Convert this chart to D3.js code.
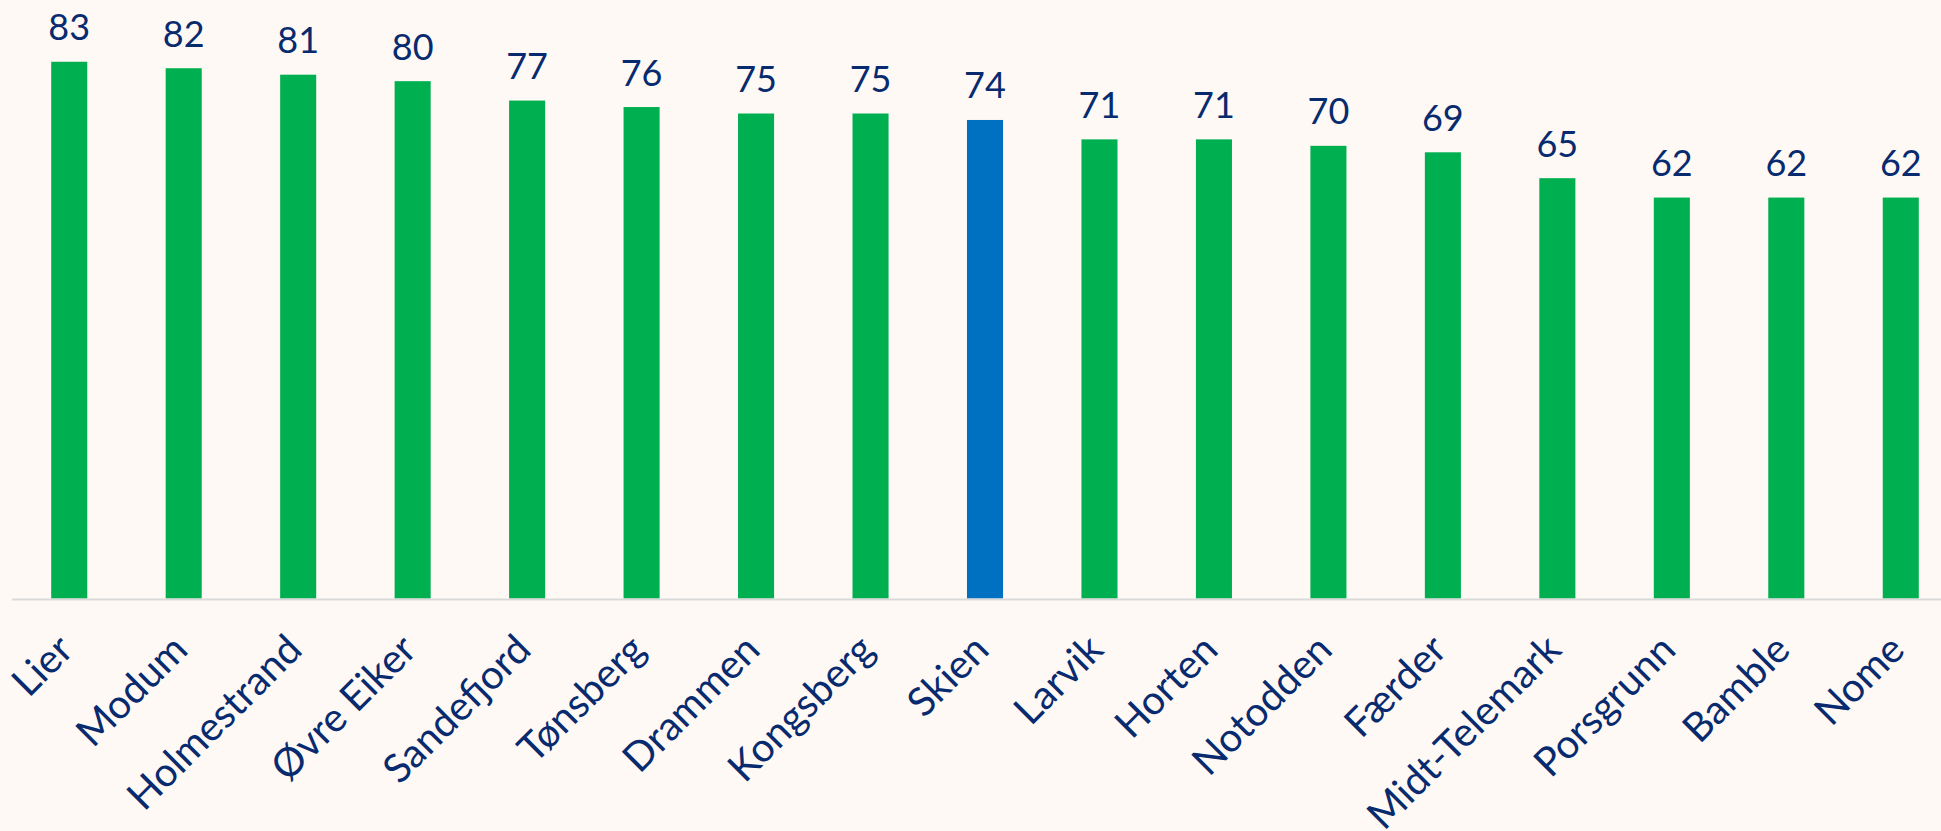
<!DOCTYPE html>
<html>
<head>
<meta charset="utf-8">
<script src="https://cdn.jsdelivr.net/npm/d3@7/dist/d3.min.js"></script>
<style>
  html, body { margin: 0; padding: 0; background: #fef9f5; }
  svg { display: block; }
</style>
</head>
<body>
<svg id="chart" width="1941" height="831"></svg>
<script>
const categories = ["Lier", "Modum", "Holmestrand", "Øvre Eiker", "Sandefjord", "Tønsberg", "Drammen", "Kongsberg", "Skien", "Larvik", "Horten", "Notodden", "Færder", "Midt-Telemark", "Porsgrunn", "Bamble", "Nome"];
const values = [83, 82, 81, 80, 77, 76, 75, 75, 74, 71, 71, 70, 69, 65, 62, 62, 62];
const highlight = ["Skien"];

const W = 1941, H = 831;
const baseY = 598.5;
const green = "#00b050", blue = "#0070c0", navy = "#082a6e";

const svg = d3.select("#chart");
svg.append("rect").attr("width", W).attr("height", H).attr("fill", "#fef9f5");

const x = d3.scaleBand().domain(categories).range([12, 1958]).paddingInner(0.685).paddingOuter(0.3425);
const y = d3.scaleLinear().domain([0, 90]).range([baseY, 16.5]);

const data = categories.map((c, i) => ({ c, v: values[i] }));

svg.append("g").selectAll("rect").data(data).join("rect")
  .attr("x", d => x(d.c))
  .attr("width", x.bandwidth())
  .attr("y", d => y(d.v))
  .attr("height", d => y(0) - y(d.v))
  .attr("fill", d => highlight.includes(d.c) ? blue : green);

svg.append("line")
  .attr("x1", 12).attr("x2", W)
  .attr("y1", baseY + 1).attr("y2", baseY + 1)
  .attr("stroke", "#d9d9d9").attr("stroke-width", 2);

svg.append("g").selectAll("text").data(data).join("text")
  .attr("x", d => x(d.c) + x.bandwidth() / 2)
  .attr("y", d => y(d.v) - 21.5)
  .attr("text-anchor", "middle")
  .attr("font-family", "Lato, sans-serif")
  .attr("font-size", 36)
  .attr("fill", navy)
  .text(d => d.v);

svg.append("g").selectAll("text").data(categories).join("text")
  .attr("transform", d => `translate(${x(d) + x.bandwidth() / 2 + 6},652) rotate(-45)`)
  .attr("text-anchor", "end")
  .attr("font-family", "Lato, sans-serif")
  .attr("font-size", 40)
  .attr("fill", navy)
  .text(d => d);
</script>
</body>
</html>
